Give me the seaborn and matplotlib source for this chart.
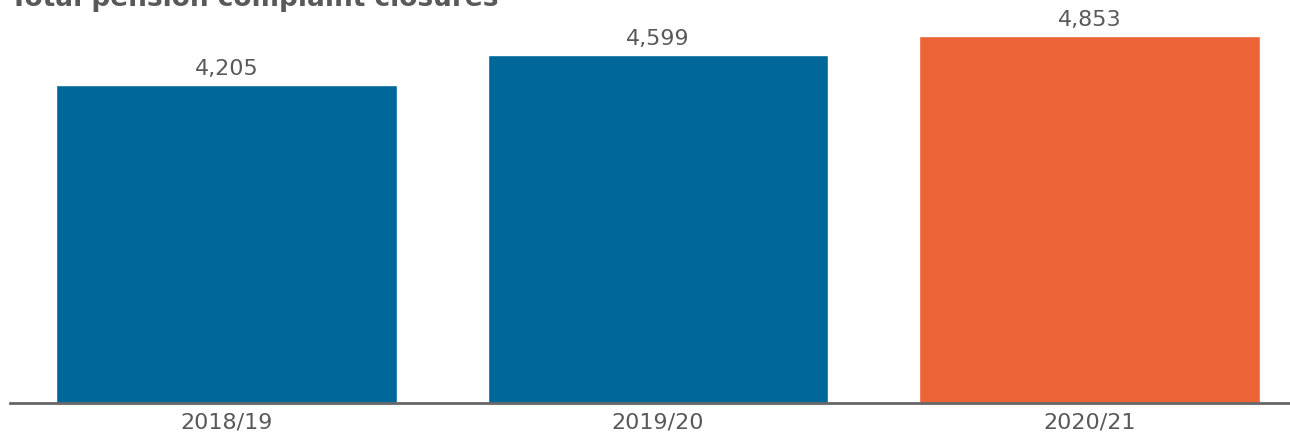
import matplotlib
matplotlib.use("Agg")
import matplotlib.pyplot as plt
import seaborn as sns
import pandas as pd

years = ["2018/19", "2019/20", "2020/21"]
closures = [4205, 4599, 4853]
bar_colors = ["#00679A", "#00679A", "#EC6436"]

sns.set_theme(style="white")
plt.rcParams['font.family'] = ['DejaVu Sans']

df = pd.DataFrame({"year": years, "closures": closures})

fig = plt.figure(figsize=(12.9, 4.37), dpi=100)
ax = fig.add_axes([10/1290, 34/437, 1280/1290, 403/437])
sns.barplot(data=df, x="year", y="closures", hue="year", palette=bar_colors,
            width=0.79, legend=False, ax=ax, saturation=1)

ax.set_xlim(-0.502, 2.465)
ax.set_ylim(0, 5329)
for i, v in enumerate(closures):
    ax.text(i, v + 80, f"{v:,}", ha="center", va="bottom", fontsize=16, color="#595959")

ax.set_xlabel("")
ax.set_ylabel("")
ax.set_yticks([])
ax.tick_params(axis="x", labelsize=16, labelcolor="#595959", length=0, pad=7)
for s in ["top", "right", "left"]:
    ax.spines[s].set_visible(False)
ax.spines["bottom"].set_color("#666666")
ax.spines["bottom"].set_linewidth(2)

# title is cropped at the top edge, as in the source image
fig.text(10/1290, 1 - 6/437, "Total pension complaint closures", ha="left", va="baseline",
         fontsize=19, fontweight="bold", color="#595959")

fig.savefig("out.png", dpi=100)
